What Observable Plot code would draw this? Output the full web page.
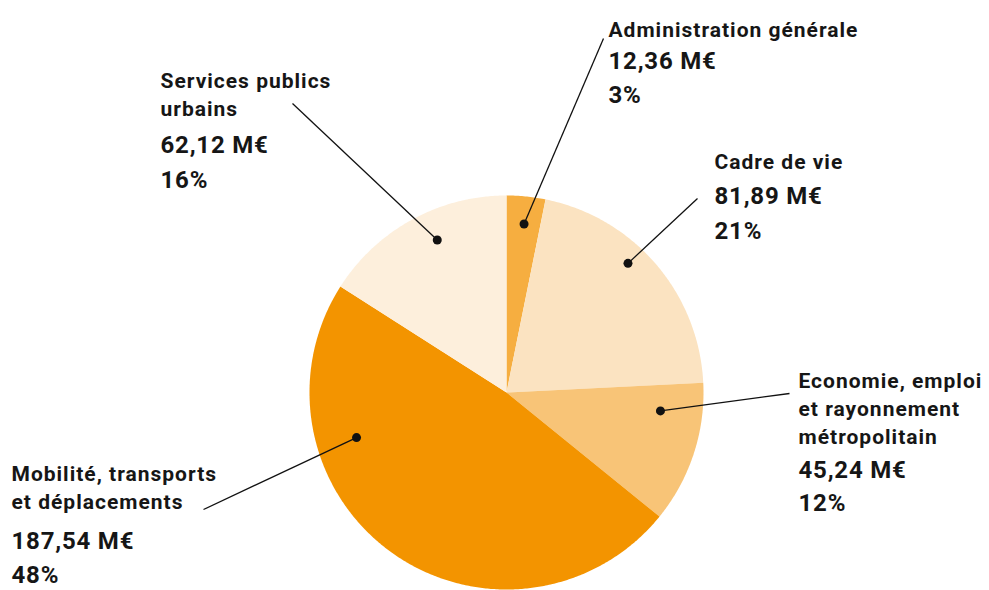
<!DOCTYPE html>
<html><head><meta charset="utf-8">
<script src="https://cdn.jsdelivr.net/npm/d3@7"></script>
<script src="https://cdn.jsdelivr.net/npm/@observablehq/plot@0.6"></script>
<style>body{margin:0;background:#fff}#chart svg{display:block}
#chart .nm text{letter-spacing:1px}
#chart .nb text{letter-spacing:0.8px}
</style>
</head><body><div id="chart"></div>
<script>
// ---- data ----
const categories = ["Administration générale","Cadre de vie","Economie, emploi et rayonnement métropolitain","Mobilité, transports et déplacements","Services publics urbains"];
const nameLines = ["Administration générale","Cadre de vie","Economie, emploi\net rayonnement\nmétropolitain","Mobilité, transports\net déplacements","Services publics\nurbains"];
const valuesME = [12.36, 81.89, 45.24, 187.54, 62.12];
const valueLabels = ["12,36 M€","81,89 M€","45,24 M€","187,54 M€","62,12 M€"];
const percentLabels = ["3%","21%","12%","48%","16%"];
const colors = ["#f6ae40","#fbe3c1","#f8c477","#f39400","#fdefdc"];

// ---- layout ----
const W = 989, H = 590, CX = 506, CY = 392, R = 197;
// dot anchor inside each slice: fraction of slice angle, fraction of radius
const anchorT = [0.52, 0.42, 0.23, 0.716, 0.575];
const anchorR = [0.86, 0.90, 0.787, 0.795, 0.85];
// label placement (px): text left x, baselines, leader line end
const labelX = [608, 714, 798, 11, 160];
const nameBase = [36, 168, 443, 508, 115];
const valBase = [68, 203, 477, 548, 152];
const pctBase = [102, 238, 510, 582, 187];
const lineEndX = [603, 697, 789, 203, 292];
const lineEndY = [38, 198, 393, 509, 103];

const ux = px => (px - CX) / R;
const uy = py => (CY - py) / R;

const arcs = d3.pie().sort(null).value(d => d)(valuesME);
const slicePts = [];
arcs.forEach((a, i) => {
  const n = Math.max(8, Math.ceil((a.endAngle - a.startAngle) / (Math.PI / 360)));
  slicePts.push({cat: categories[i], x: 0, y: 0});
  for (let k = 0; k <= n; k++) {
    const t = a.startAngle + (a.endAngle - a.startAngle) * k / n;
    slicePts.push({cat: categories[i], x: Math.sin(t), y: Math.cos(t)});
  }
});

const ann = arcs.map((a, i) => {
  const t = a.startAngle + (a.endAngle - a.startAngle) * anchorT[i];
  return {
    cat: categories[i],
    dx: anchorR[i] * Math.sin(t), dy: anchorR[i] * Math.cos(t),
    lx: ux(lineEndX[i]), ly: uy(lineEndY[i]),
    tx: ux(labelX[i]),
    ny: uy(nameBase[i]), vy: uy(valBase[i]), py: uy(pctBase[i]),
    name: nameLines[i], val: valueLabels[i], pct: percentLabels[i]
  };
});

const font = "Roboto, 'DejaVu Sans', sans-serif";
const chart = Plot.plot({
  width: W, height: H,
  margin: 0,
  x: {domain: [ux(0), ux(W)], range: [0, W], axis: null},
  y: {domain: [uy(H), uy(0)], range: [H, 0], axis: null},
  color: {domain: categories, range: colors},
  style: {fontFamily: font, background: "#fff"},
  marks: [
    Plot.line(slicePts, {x: "x", y: "y", z: "cat", fill: "cat", stroke: null, curve: "linear-closed"}),
    Plot.link(ann, {x1: "dx", y1: "dy", x2: "lx", y2: "ly", stroke: "#111", strokeWidth: 1.3}),
    Plot.dot(ann, {x: "dx", y: "dy", r: 4.5, fill: "#111", stroke: null}),
    Plot.text(ann, {x: "tx", y: "ny", text: "name", textAnchor: "start", lineAnchor: "bottom", lineHeight: 1.31, fontSize: 21, fontWeight: 700, fill: "#161616", className: "nm"}),
    Plot.text(ann, {x: "tx", y: "vy", text: "val", textAnchor: "start", lineAnchor: "bottom", fontSize: 24, fontWeight: 700, fill: "#161616", className: "nb"}),
    Plot.text(ann, {x: "tx", y: "py", text: "pct", textAnchor: "start", lineAnchor: "bottom", fontSize: 24, fontWeight: 700, fill: "#161616", className: "nb"})
  ]
});
document.getElementById("chart").appendChild(chart);
</script>
</body></html>
